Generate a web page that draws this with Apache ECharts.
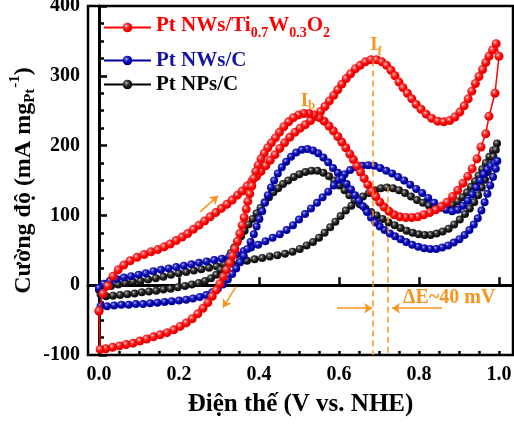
<!DOCTYPE html>
<html>
<head>
<meta charset="utf-8">
<script src="https://cdn.jsdelivr.net/npm/echarts@6/dist/echarts.min.js"></script>
<style>
html, body { margin: 0; padding: 0; background: #fff; }
#chart { width: 514px; height: 425px; }
</style>
</head>
<body>
<div id="chart"></div>
<script>
// CV loops: [potential (V vs. NHE), current (mA/mg Pt)]
var redCV = [
  [0.000,-37],[0.010,-12],[0.022,-1],[0.035,13],[0.048,22],[0.062,29],[0.078,35],[0.095,40],
  [0.113,44],[0.130,48],[0.147,51],[0.163,55],[0.178,59],[0.193,64],[0.208,69],[0.222,74],
  [0.236,80],[0.250,86],[0.264,92],[0.278,98],[0.292,104],[0.306,110],[0.320,116],[0.333,122],
  [0.346,129],[0.358,135],[0.370,142],[0.382,149],[0.394,156],[0.405,163],[0.417,171],[0.428,179],
  [0.440,187],[0.452,196],[0.464,204],[0.477,212],[0.490,219],[0.503,225],[0.516,230],[0.529,236],
  [0.542,242],[0.554,249],[0.565,256],[0.576,264],[0.587,272],[0.597,280],[0.607,288],[0.618,296],
  [0.629,303],[0.641,310],[0.653,315],[0.666,320],[0.680,323],[0.694,323],[0.707,320],[0.719,315],
  [0.730,308],[0.740,300],[0.750,291],[0.760,283],[0.771,275],[0.782,267],[0.793,259],[0.805,252],
  [0.818,245],[0.832,239],[0.847,235],[0.862,234],[0.877,236],[0.890,241],[0.902,248],[0.913,257],
  [0.923,267],[0.932,278],[0.941,289],[0.950,299],[0.959,309],[0.967,319],[0.975,328],[0.984,337],
  [0.993,346],
  [1.000,328],[0.990,275],[0.975,242],[0.967,217],[0.955,198],[0.945,181],[0.933,167],[0.922,156],
  [0.910,146],[0.897,136],[0.884,127],[0.870,119],[0.856,113],[0.842,108],[0.827,104],[0.812,101],
  [0.797,98],[0.782,97],[0.767,97],[0.752,98],[0.738,101],[0.725,106],[0.713,112],[0.702,119],
  [0.692,127],[0.682,135],[0.672,144],[0.663,153],[0.654,162],[0.645,171],[0.636,180],[0.627,188],
  [0.617,197],[0.607,205],[0.597,213],[0.586,221],[0.575,228],[0.563,235],[0.551,240],[0.538,244],
  [0.525,246],[0.512,246],[0.499,244],[0.486,240],[0.474,234],[0.462,227],[0.451,219],[0.441,211],
  [0.431,204],[0.422,197],[0.413,189],[0.405,181],[0.398,172],[0.392,163],[0.387,153],[0.382,142],
  [0.377,131],[0.372,120],[0.368,109],[0.363,97],[0.358,86],[0.352,74],[0.346,63],[0.340,52],
  [0.334,42],[0.327,32],[0.319,22],[0.311,12],[0.302,2],[0.293,-7],[0.283,-16],[0.272,-25],
  [0.260,-33],[0.247,-41],[0.233,-48],[0.218,-54],[0.203,-59],[0.187,-64],[0.170,-68],[0.153,-71],
  [0.136,-74],[0.119,-77],[0.102,-80],[0.085,-83],[0.068,-85],[0.051,-87],[0.034,-89],[0.017,-91],
  [0.003,-92],[0.000,-37]
];
var blueCV = [
  [0.000,-4],[0.012,2],[0.027,6],[0.044,9],[0.062,11],[0.080,13],[0.099,15],[0.117,17],
  [0.136,20],[0.155,22],[0.174,24],[0.193,26],[0.212,28],[0.231,30],[0.250,32],[0.269,34],
  [0.288,36],[0.307,38],[0.326,41],[0.344,44],[0.362,49],[0.380,54],[0.398,58],[0.416,63],
  [0.434,68],[0.452,73],[0.469,79],[0.485,86],[0.500,94],[0.515,102],[0.530,110],[0.545,118],
  [0.559,126],[0.573,134],[0.587,143],[0.600,151],[0.614,159],[0.628,165],[0.643,169],[0.658,171],
  [0.673,172],[0.688,171],[0.703,168],[0.718,164],[0.733,160],[0.748,155],[0.763,150],[0.778,144],
  [0.793,138],[0.808,132],[0.823,125],[0.838,118],[0.853,112],[0.868,108],[0.883,106],[0.897,108],
  [0.910,114],[0.922,121],[0.933,130],[0.943,140],[0.953,150],[0.962,159],[0.971,166],[0.980,171],
  [0.989,175],[0.996,178],
  [0.992,167],[0.985,155],[0.978,143],[0.971,131],[0.964,119],[0.956,107],[0.947,96],[0.937,87],
  [0.926,79],[0.914,72],[0.901,66],[0.887,61],[0.873,57],[0.858,54],[0.843,52],[0.828,52],
  [0.813,53],[0.798,55],[0.783,58],[0.768,62],[0.754,66],[0.740,70],[0.727,74],[0.714,79],
  [0.702,84],[0.691,90],[0.680,97],[0.670,105],[0.660,113],[0.650,121],[0.640,129],[0.630,137],
  [0.619,145],[0.608,153],[0.597,161],[0.585,168],[0.573,176],[0.561,183],[0.548,189],[0.535,193],
  [0.521,195],[0.507,194],[0.493,190],[0.480,184],[0.468,177],[0.457,169],[0.447,160],[0.438,150],
  [0.430,140],[0.422,129],[0.415,118],[0.408,106],[0.401,95],[0.394,84],[0.387,73],[0.379,62],
  [0.371,52],[0.362,42],[0.353,33],[0.343,24],[0.333,16],[0.322,8],[0.310,1],[0.297,-5],
  [0.283,-10],[0.268,-14],[0.252,-17],[0.235,-19],[0.218,-21],[0.200,-22],[0.182,-23],[0.164,-24],
  [0.146,-25],[0.128,-26],[0.110,-27],[0.092,-27],[0.074,-28],[0.056,-28],[0.038,-29],[0.020,-30],
  [0.004,-30],[0.000,-4]
];
var blackCV = [
  [0.000,-6],[0.014,-3],[0.030,-1],[0.048,1],[0.066,3],[0.085,5],[0.104,6],[0.123,8],
  [0.142,10],[0.161,12],[0.180,15],[0.199,17],[0.218,19],[0.237,21],[0.256,23],[0.275,25],
  [0.294,27],[0.313,29],[0.332,31],[0.351,33],[0.370,35],[0.389,37],[0.408,39],[0.427,41],
  [0.446,43],[0.465,45],[0.484,48],[0.502,52],[0.519,57],[0.535,62],[0.550,68],[0.564,75],
  [0.578,83],[0.591,91],[0.604,99],[0.617,107],[0.631,114],[0.645,121],[0.660,127],[0.675,132],
  [0.690,136],[0.705,139],[0.720,140],[0.735,139],[0.750,136],[0.765,132],[0.780,127],[0.795,122],
  [0.810,118],[0.825,114],[0.840,112],[0.855,111],[0.870,112],[0.884,115],[0.897,120],[0.909,126],
  [0.920,133],[0.930,141],[0.940,149],[0.949,157],[0.958,166],[0.967,175],[0.976,184],[0.985,193],
  [0.995,203],
  [0.992,194],[0.986,184],[0.979,173],[0.972,162],[0.965,151],[0.957,140],[0.948,129],[0.938,119],
  [0.927,110],[0.915,102],[0.902,94],[0.888,87],[0.874,81],[0.859,77],[0.844,74],[0.829,72],
  [0.814,72],[0.799,73],[0.784,75],[0.769,78],[0.754,82],[0.739,86],[0.724,90],[0.709,95],
  [0.694,100],[0.680,105],[0.666,110],[0.652,116],[0.639,122],[0.626,129],[0.614,136],[0.601,143],
  [0.588,150],[0.575,156],[0.561,161],[0.546,164],[0.531,164],[0.516,162],[0.501,159],[0.487,155],
  [0.473,150],[0.460,145],[0.448,139],[0.436,133],[0.425,126],[0.414,119],[0.404,111],[0.394,103],
  [0.384,95],[0.374,87],[0.364,78],[0.355,70],[0.346,62],[0.338,54],[0.330,46],[0.322,38],
  [0.313,30],[0.304,22],[0.293,15],[0.280,10],[0.265,6],[0.249,3],[0.232,1],[0.215,-1],
  [0.197,-3],[0.179,-5],[0.161,-6],[0.143,-8],[0.125,-9],[0.107,-10],[0.089,-12],[0.071,-13],
  [0.053,-14],[0.035,-15],[0.018,-16],[0.004,-13],[0.000,-6]
];

var seriesNames = ['Pt NWs/Ti0.7W0.3O2', 'Pt NWs/C', 'Pt NPs/C'];
var xTicks = [0, 0.2, 0.4, 0.6, 0.8, 1.0];
var xMinorTicks = [0, 0.05, 0.1, 0.15, 0.2, 0.25, 0.3, 0.35, 0.4, 0.45, 0.5,
                   0.55, 0.6, 0.65, 0.7, 0.75, 0.8, 0.85, 0.9, 0.95, 1.0];
// peak positions used for the dashed guide lines
var peakF = [0.685, 322];
var peakF2 = [0.7225, 141];

var FONT = '"Liberation Serif", "Times New Roman", serif';
var ORANGE = '#F7941D';

function bead(light, mid, dark) {
  return {
    type: 'radial', x: 0.38, y: 0.35, r: 0.65,
    colorStops: [
      {offset: 0, color: light},
      {offset: 0.25, color: mid},
      {offset: 0.65, color: dark},
      {offset: 1, color: dark}
    ]
  };
}

var chart = echarts.init(document.getElementById('chart'));

var axisLine = {lineStyle: {color: '#000', width: 3}};
var labelStyle = {color: '#000', fontFamily: FONT, fontWeight: 'bold', fontSize: 20};

var option = {
  animation: false,
  backgroundColor: '#fff',
  grid: {
    left: 88, right: 1, top: 6, bottom: 70,
    outerBoundsMode: 'none',
    show: true, borderColor: '#000', borderWidth: 2.5
  },
  xAxis: [{
    type: 'value', min: -0.0275, max: 1.035,
    axisLine: axisLine,
    axisTick: {inside: true, length: 8, customValues: xTicks, lineStyle: {width: 2.5, color: '#000'}},
    axisLabel: Object.assign({margin: 10, customValues: xTicks,
      formatter: function (v) { return v.toFixed(1); }}, labelStyle),
    splitLine: {show: false},
    name: 'Điện thế (V vs. NHE)',
    nameLocation: 'middle',
    nameGap: 37,
    nameTextStyle: {color: '#000', fontFamily: FONT, fontWeight: 'bold', fontSize: 25}
  }, {
    type: 'value', min: -0.0275, max: 1.035, position: 'bottom',
    axisLine: {show: false},
    axisTick: {inside: true, length: 4, customValues: xMinorTicks, lineStyle: {width: 2.5, color: '#000'}},
    axisLabel: {show: false},
    splitLine: {show: false}
  }],
  yAxis: {
    type: 'value', min: -100, max: 400, interval: 100,
    axisLine: axisLine,
    axisTick: {inside: true, length: 8, lineStyle: {width: 2.5, color: '#000'}},
    minorTick: {show: true, splitNumber: 4, length: 5, lineStyle: {width: 2.5, color: '#000'}},
    axisLabel: Object.assign({margin: 8}, labelStyle),
    splitLine: {show: false},
    name: '{n|Cường độ (mA mg}{s|Pt}{p|-1}{n|)}',
    nameLocation: 'middle',
    nameRotate: 90,
    nameGap: 47,
    nameMoveOverlap: false,
    nameTextStyle: {
      rich: {
        n: {fontFamily: FONT, fontWeight: 'bold', fontSize: 24, color: '#000', lineHeight: 34},
        s: {fontFamily: FONT, fontWeight: 'bold', fontSize: 15, color: '#000', lineHeight: 15,
            verticalAlign: 'bottom', padding: [0, 0, 3, 0]},
        p: {fontFamily: FONT, fontWeight: 'bold', fontSize: 15, color: '#000', lineHeight: 15,
            verticalAlign: 'top', padding: [1, 0, 0, 1]}
      }
    }
  },
  legend: [{
    data: [seriesNames[0]], left: 98, top: 10, itemWidth: 47, itemHeight: 12,
    formatter: function () { return '{n|Pt NWs/Ti}{s|0.7}{n|W}{s|0.3}{n|O}{s|2}'; },
    textStyle: {
      color: '#FF0000',
      rich: {
        n: {fontFamily: FONT, fontWeight: 'bold', fontSize: 21, color: '#FF0000', verticalAlign: 'top', lineHeight: 21},
        s: {fontFamily: FONT, fontWeight: 'bold', fontSize: 14, color: '#FF0000', verticalAlign: 'bottom', padding: [11, 0, 0, 0]}
      }
    }
  }, {
    data: [seriesNames[1]], left: 98, top: 45, itemWidth: 47, itemHeight: 12,
    textStyle: {color: '#1414A0', fontFamily: FONT, fontWeight: 'bold', fontSize: 21}
  }, {
    data: [seriesNames[2]], left: 98, top: 69, itemWidth: 47, itemHeight: 12,
    textStyle: {color: '#000', fontFamily: FONT, fontWeight: 'bold', fontSize: 21}
  }],
  series: [{
    name: seriesNames[2], type: 'line', data: blackCV, z: 2,
    symbol: 'circle', symbolSize: 8, showSymbol: true, showAllSymbol: true,
    lineStyle: {color: '#000', width: 1.5},
    itemStyle: {color: bead('#d8d8d8', '#555555', '#111111')},
    markLine: {
      silent: true, symbol: ['none', 'arrow'], symbolSize: 8,
      label: {show: false},
      lineStyle: {color: ORANGE, type: 'solid', width: 1.5},
      data: [
        [{coord: [0.595, -33]}, {coord: [0.683, -33]}],
        [{coord: [0.8575, -33]}, {coord: [0.7325, -33]}],
        [{coord: [0.2525, 105]}, {coord: [0.2975, 128]}],
        [{coord: [0.3425, -2]}, {coord: [0.310, -32]}]
      ]
    }
  }, {
    name: seriesNames[1], type: 'line', data: blueCV, z: 3,
    symbol: 'circle', symbolSize: 8, showSymbol: true, showAllSymbol: true,
    lineStyle: {color: '#0000A8', width: 1.5},
    itemStyle: {color: bead('#d0d0ff', '#3a3ad0', '#0000A0')}
  }, {
    name: seriesNames[0], type: 'line', data: redCV, z: 4,
    symbol: 'circle', symbolSize: 9, showSymbol: true, showAllSymbol: true,
    lineStyle: {color: '#FF0000', width: 1.5},
    itemStyle: {color: bead('#ffe4e4', '#ff5050', '#f00000')},
    markLine: {
      silent: true, symbol: ['none', 'none'],
      label: {show: false},
      lineStyle: {color: ORANGE, type: [6, 4], width: 1.5},
      data: [
        [{coord: peakF}, {coord: [peakF[0], -100]}],
        [{coord: peakF2}, {coord: [peakF2[0], -100]}]
      ]
    }
  }],
  graphic: [{
    type: 'text', x: 376, y: 47, z: 10,
    style: {
      text: '{a|I}{b|f}', align: 'center', verticalAlign: 'middle',
      rich: {
        a: {fontFamily: FONT, fontWeight: 'bold', fontSize: 19, fill: ORANGE, verticalAlign: 'top', lineHeight: 19},
        b: {fontFamily: FONT, fontWeight: 'bold', fontSize: 13, fill: ORANGE, verticalAlign: 'bottom', padding: [10, 0, 0, 0]}
      }
    }
  }, {
    type: 'text', x: 308, y: 102, z: 10,
    style: {
      text: '{a|I}{b|b}', align: 'center', verticalAlign: 'middle',
      rich: {
        a: {fontFamily: FONT, fontWeight: 'bold', fontSize: 19, fill: ORANGE, verticalAlign: 'top', lineHeight: 19},
        b: {fontFamily: FONT, fontWeight: 'bold', fontSize: 13, fill: ORANGE, verticalAlign: 'bottom', padding: [8, 0, 0, 0]}
      }
    }
  }, {
    type: 'text', x: 403, y: 298, z: 10,
    style: {
      text: 'ΔE~40 mV', align: 'left', verticalAlign: 'middle',
      fontFamily: FONT, fontWeight: 'bold', fontSize: 20, fill: ORANGE
    }
  }]
};

chart.setOption(option);
</script>
</body>
</html>
